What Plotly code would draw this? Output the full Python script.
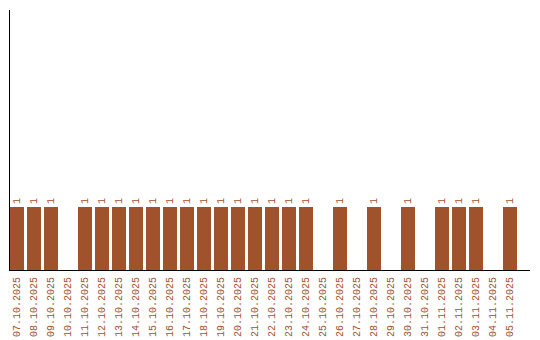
import plotly.graph_objects as go

dates = ["07.10.2025", "08.10.2025", "09.10.2025", "10.10.2025", "11.10.2025",
         "12.10.2025", "13.10.2025", "14.10.2025", "15.10.2025", "16.10.2025",
         "17.10.2025", "18.10.2025", "19.10.2025", "20.10.2025", "21.10.2025",
         "22.10.2025", "23.10.2025", "24.10.2025", "25.10.2025", "26.10.2025",
         "27.10.2025", "28.10.2025", "29.10.2025", "30.10.2025", "31.10.2025",
         "01.11.2025", "02.11.2025", "03.11.2025", "04.11.2025", "05.11.2025"]
values = [1, 1, 1, 0, 1,
          1, 1, 1, 1, 1,
          1, 1, 1, 1, 1,
          1, 1, 1, 0, 1,
          0, 1, 0, 1, 0,
          1, 1, 1, 0, 1]

color = "#A0522D"
font_family = "Liberation Mono, DejaVu Sans Mono, monospace"

fig = go.Figure(go.Bar(
    x=list(range(len(dates))),
    y=values,
    width=14 / 17,
    marker=dict(color=color, line=dict(width=0)),
    text=[str(v) if v else "" for v in values],
    textposition="outside",
    textangle=-90,
    textfont=dict(family=font_family, size=10, color=color),
    cliponaxis=False,
    hoverinfo="skip",
))

fig.update_layout(
    width=540, height=340,
    margin=dict(l=10, r=10, t=10, b=70),
    paper_bgcolor="white", plot_bgcolor="white",
    showlegend=False,
    bargap=0,
    xaxis=dict(
        tickmode="array",
        tickvals=list(range(len(dates))),
        ticktext=dates,
        tickangle=-90,
        tickfont=dict(family=font_family, size=10, color=color),
        ticklabelstandoff=2,
        automargin=False,
        range=[-7 / 17, 30.18],
        showline=True, linecolor="black", linewidth=1,
        showgrid=False, zeroline=False, ticks="",
        fixedrange=True,
    ),
    yaxis=dict(
        range=[0, 260 / 63],
        automargin=False,
        showline=True, linecolor="black", linewidth=1,
        showgrid=False, zeroline=False, ticks="", showticklabels=False,
        fixedrange=True,
    ),
)

fig.write_html("out.html")
